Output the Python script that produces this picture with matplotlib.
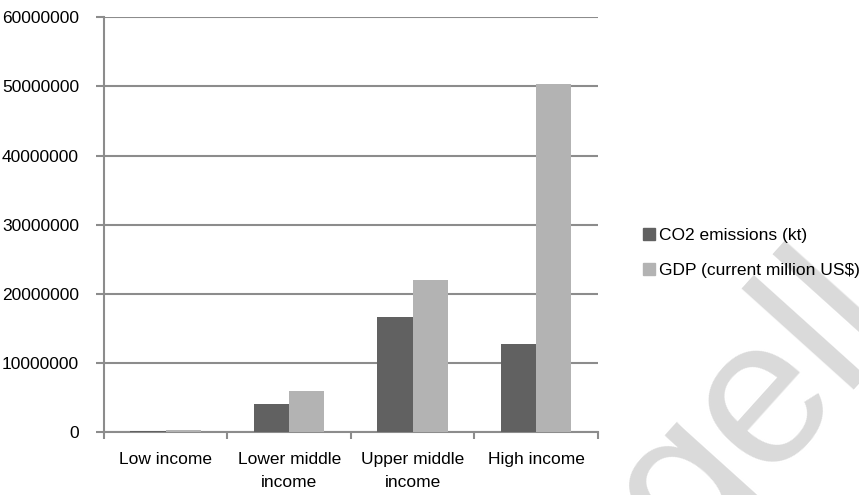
import numpy as np
import matplotlib
matplotlib.use("Agg")
import matplotlib.pyplot as plt
from matplotlib.patches import Patch

plt.rcParams["font.family"] = ["Liberation Sans", "DejaVu Sans"]

categories = ["Low income", "Lower middle\nincome", "Upper middle\nincome", "High income"]
co2_kt = [120000, 4150000, 16600000, 12800000]
gdp_musd = [300000, 5900000, 22050000, 50300000]
series_names = ["CO2 emissions (kt)", "GDP (current million US$)"]
yticks = [0, 10000000, 20000000, 30000000, 40000000, 50000000, 60000000]

DARK = "#616161"
LIGHT = "#b3b3b3"
GRID = "#8c8c8c"
FS = 12.5

fig = plt.figure(figsize=(8.59, 4.95), dpi=100)
ax = fig.add_axes([0.1211, 0.1267, 0.5747, 0.8383])

x = np.arange(len(categories))
w = 0.286
ax.bar(x - w / 2, co2_kt, width=w, color=DARK, zorder=3)
ax.bar(x + w / 2, gdp_musd, width=w, color=LIGHT, zorder=3)

ax.set_xlim(-0.5, len(categories) - 0.5)
ax.set_ylim(0, 60000000)
ax.set_yticks(yticks)
ax.set_yticklabels([str(v) for v in yticks], fontsize=FS)
ax.yaxis.grid(True, color=GRID, lw=1.5, zorder=0)
ax.set_axisbelow(True)

ax.set_xticks(x)
ax.set_xticklabels(categories, fontsize=FS, linespacing=1.7)
ax.set_xticks(np.arange(-0.5, len(categories), 1.0), minor=True)
ax.tick_params(axis="x", which="major", length=0, pad=14)
ax.tick_params(axis="x", which="minor", length=5, width=1.5, color=GRID, direction="out")
ax.tick_params(axis="y", length=6, width=1.5, color=GRID, pad=12)

for s in ["top", "right"]:
    ax.spines[s].set_visible(False)
for s in ["left", "bottom"]:
    ax.spines[s].set_color(GRID)
    ax.spines[s].set_linewidth(1.5)

handles = [Patch(color=DARK), Patch(color=LIGHT)]
fig.legend(handles, series_names, loc="upper left", bbox_to_anchor=(636 / 859, 1 - 221 / 495),
           frameon=False, fontsize=FS, handlelength=0.7, handleheight=0.7,
           handletextpad=0.2, labelspacing=1.15, borderaxespad=0)

# faint watermark in the lower right corner
fig.text(0.88, 0.175, "gell", fontsize=150, color="#dadada", rotation=48,
         ha="center", va="center", rotation_mode="anchor", zorder=0)

fig.savefig("out.png", dpi=100)
